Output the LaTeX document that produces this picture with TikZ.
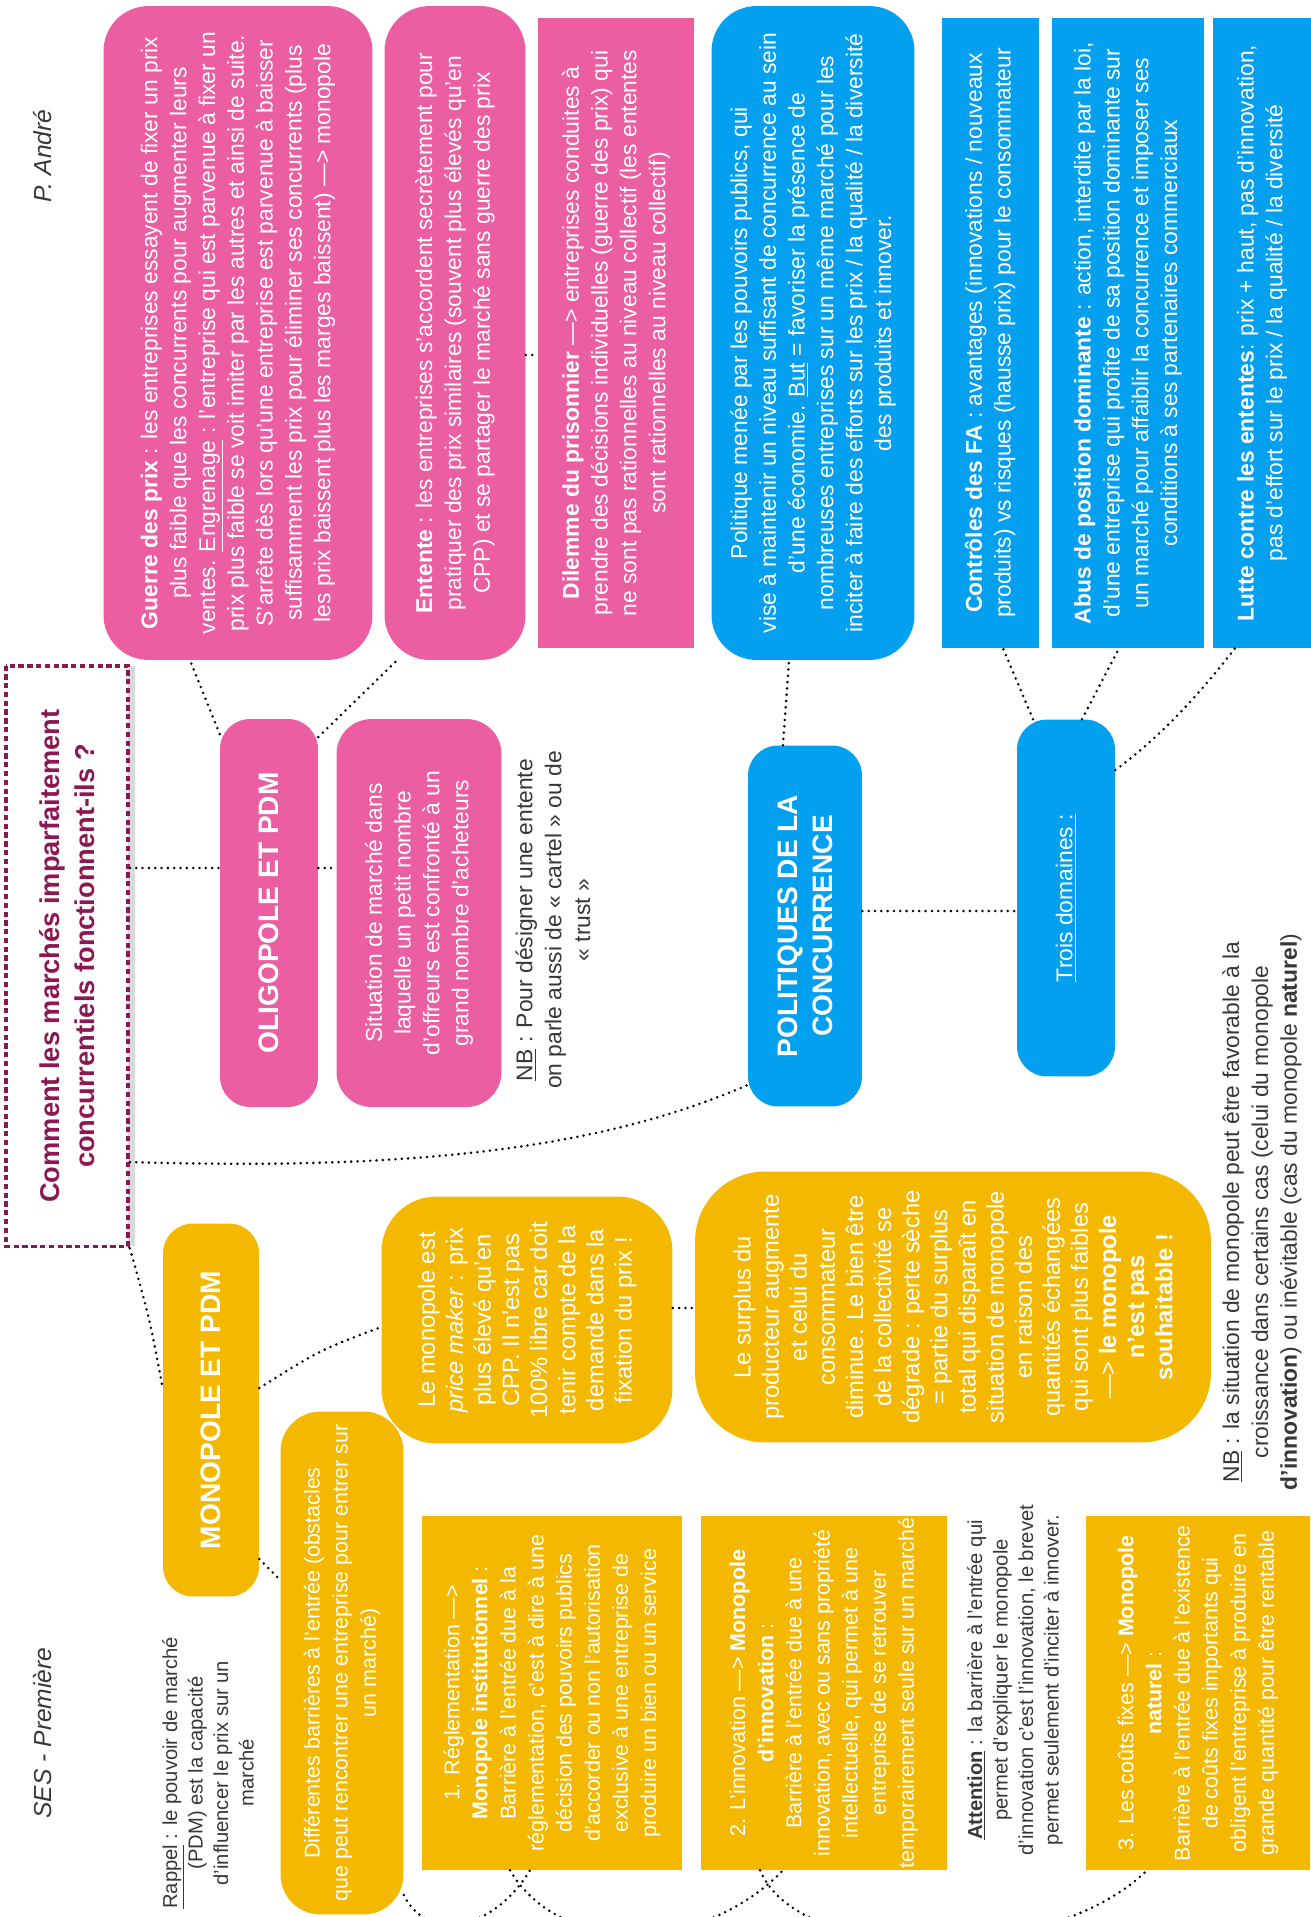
\documentclass[tikz,border=0pt]{standalone}
\usepackage{tikz}
\usetikzlibrary{shadows}
\usepackage{xcolor}
\usepackage{fontspec}
\setmainfont{Liberation Sans}

\definecolor{rose}{RGB}{236,94,162}
\definecolor{bleu}{RGB}{3,160,240}
\definecolor{jaune}{RGB}{245,184,0}
\definecolor{bordeaux}{RGB}{140,24,82}
\definecolor{gristexte}{RGB}{55,55,55}

\newcommand\corps{\fontsize{13}{16.4}\selectfont}
\newcommand\corpsjaune{\fontsize{13.5}{16}\selectfont}
\newcommand\corpsbarriere{\fontsize{12.2}{16}\selectfont}
\newcommand\petit{\fontsize{11.5}{14.5}\selectfont}
\newcommand\gros{\fontsize{16}{20}\selectfont\bfseries}

\tikzset{
  boite/.style={rotate=90, align=center, text=white, inner sep=0pt, font=\corps},
  rosebox/.style={boite, fill=rose, rounded corners=0.9cm},
  rosecarre/.style={boite, fill=rose},
  bleubox/.style={boite, fill=bleu, rounded corners=0.9cm},
  bleucarre/.style={boite, fill=bleu},
  jaunebox/.style={boite, fill=jaune, rounded corners=0.9cm, font=\corpsjaune},
  jaunecarre/.style={boite, fill=jaune, font=\corpsbarriere},
  titrebox/.style={rotate=90, align=center, text=bordeaux, draw=bordeaux, fill=white,
    line width=2.2pt, dash pattern=on 3pt off 2pt, font=\fontsize{15.5}{20}\selectfont\bfseries,
    drop shadow={shadow xshift=4pt, shadow yshift=0pt, opacity=.3}},
  note/.style={rotate=90, align=center, text=gristexte, font=\corps},
  petitenote/.style={rotate=90, align=center, text=gristexte, font=\petit},
  entete/.style={rotate=90, text=gristexte, font=\fontsize{14}{16}\selectfont\itshape},
  lien/.style={line width=1.6pt, dash pattern=on 0pt off 3.6pt, line cap=round}
}

\begin{document}
\begin{tikzpicture}[x=0.02cm, y=-0.02cm]
    \useasboundingbox (0,0) rectangle (1311,1917);
    \clip (0,0) rectangle (1311,1917);

    \draw (43,156) node[entete] (auteur) {P. André};
    \draw (43,1733) node[entete] (niveau) {SES - Première};

    \draw (67,956) node[titrebox, minimum width=11.62cm, minimum height=2.44cm] (titre) {Comment les marchés imparfaitement\\concurrentiels fonctionnent-ils ?};

    \draw (238,333) node[rosebox, minimum width=13.08cm, minimum height=5.38cm] (guerre) {\textbf{Guerre des prix} : les entreprises essayent de fixer un prix\\
plus faible que les concurrents pour augmenter leurs\\
ventes. \underline{Engrenage} : l’entreprise qui est parvenue à fixer un\\
prix plus faible se voit imiter par les autres et ainsi de suite.\\
S’arrête dès lors qu’une entreprise est parvenue à baisser\\
suffisamment les prix pour éliminer ses concurrents (plus\\
les prix baissent plus les marges baissent) —> monopole};
    \draw (455,333) node[rosebox, minimum width=13.08cm, minimum height=2.82cm] (entente) {\textbf{Entente} : les entreprises s’accordent secrètement pour\\
pratiquer des prix similaires (souvent plus élevés qu’en\\
CPP) et se partager le marché sans guerre des prix};
    \draw (616,333) node[rosecarre, minimum width=12.6cm, minimum height=3.14cm] (dilemme) {\textbf{Dilemme du prisonnier} —> entreprises conduites à\\
prendre des décisions individuelles (guerre des prix) qui\\
ne sont pas rationnelles au niveau collectif (les ententes\\
sont rationnelles au niveau collectif)};
    \draw (269,913) node[rosebox, rounded corners=0.6cm, font=\gros, minimum width=7.76cm, minimum height=1.96cm] (oligo) {OLIGOPOLE ET PDM};
    \draw (419,913) node[rosebox, rounded corners=0.7cm, minimum width=7.76cm, minimum height=3.3cm] (situation) {Situation de marché dans\\
laquelle un petit nombre\\
d’offreurs est confronté à un\\
grand nombre d’acheteurs};
    \draw (553,920) node[note] (nbcartel) {\underline{NB} : Pour désigner une entente\\
on parle aussi de «~cartel~» ou de\\
«~trust~»};

    \draw (813,333) node[bleubox, minimum width=13.08cm, minimum height=4.06cm] (politique) {Politique menée par les pouvoirs publics, qui\\
vise à maintenir un niveau suffisant de concurrence au sein\\
d’une économie. \underline{But} = favoriser la présence de\\
nombreuses entreprises sur un même marché pour les\\
inciter à faire des efforts sur les prix / la qualité / la diversité\\
des produits et innover.};
    \draw (990,333) node[bleucarre, minimum width=12.6cm, minimum height=1.94cm] (controle) {\textbf{Contrôles des FA} : avantages (innovations / nouveaux\\
produits) vs risques (hausse prix) pour le consommateur};
    \draw (1128,333) node[bleucarre, minimum width=12.6cm, minimum height=3.06cm] (abus) {\textbf{Abus de position dominante} : action, interdite par la loi,\\
d’une entreprise qui profite de sa position dominante sur\\
un marché pour affaiblir la concurrence et imposer ses\\
conditions à ses partenaires commerciaux};
    \draw (1262,333) node[bleucarre, minimum width=12.6cm, minimum height=1.96cm] (lutte) {\textbf{Lutte contre les ententes}: prix + haut, pas d’innovation,\\
pas d’effort sur le prix / la qualité / la diversité};
    \draw (805,926) node[bleubox, rounded corners=0.6cm, font=\gros, minimum width=7.22cm, minimum height=2.28cm] (polconc) {POLITIQUES DE LA\\CONCURRENCE};
    \draw (1066,898) node[bleubox, rounded corners=0.6cm, minimum width=7.14cm, minimum height=1.96cm] (domaines) {\underline{Trois domaines :}};
    \draw (1262,1212) node[note] (nbmono) {\underline{NB} : la situation de monopole peut être favorable à la\\
croissance dans certains cas (celui du monopole\\
\textbf{d’innovation}) ou inévitable (cas du monopole \textbf{naturel})};

    \draw (211,1410) node[jaunebox, rounded corners=0.6cm, font=\gros, minimum width=7.46cm, minimum height=1.92cm] (monopole) {MONOPOLE ET PDM};
    \draw (527,1320) node[jaunebox, rounded corners=1.1cm, minimum width=4.94cm, minimum height=5.82cm] (pricemaker) {Le monopole est\\
\textit{price maker} : prix\\
plus élevé qu’en\\
CPP. Il n’est pas\\
100\% libre car doit\\
tenir compte de la\\
demande dans la\\
fixation du prix !};
    \draw (953,1307) node[jaunebox, rounded corners=1.4cm, minimum width=5.42cm, minimum height=10.32cm] (surplus) {Le surplus du\\
producteur augmente\\
et celui du\\
consommateur\\
diminue. Le bien être\\
de la collectivité se\\
dégrade : perte sèche\\
= partie du surplus\\
total qui disparaît en\\
situation de monopole\\
en raison des\\
quantités échangées\\
qui sont plus faibles\\
—> \textbf{le monopole}\\
\textbf{n’est pas}\\
\textbf{souhaitable !}};
    \draw (342,1663) node[jaunebox, font=\corpsbarriere, rounded corners=0.8cm, minimum width=10.06cm, minimum height=2.46cm] (barrieres) {Différentes barrières à l’entrée (obstacles\\
que peut rencontrer une entreprise pour entrer sur\\
un marché)};
    \draw (552,1693) node[jaunecarre, minimum width=7.08cm, minimum height=5.2cm] (reglem) {1. Réglementation —>\\
\textbf{Monopole institutionnel} :\\
Barrière à l’entrée due à la\\
réglementation, c’est à dire à une\\
décision des pouvoirs publics\\
d’accorder ou non l’autorisation\\
exclusive à une entreprise de\\
produire un bien ou un service};
    \draw (824,1693) node[jaunecarre, minimum width=7.08cm, minimum height=4.94cm] (innov) {2. L’innovation —> \textbf{Monopole}\\
\textbf{d’innovation} :\\
Barrière à l’entrée due à une\\
innovation, avec ou sans propriété\\
intellectuelle, qui permet à une\\
entreprise de se retrouver\\
temporairement seule sur un marché};
    \draw (1198,1693) node[jaunecarre, minimum width=7.08cm, minimum height=4.5cm] (couts) {3. Les coûts fixes —> \textbf{Monopole}\\
\textbf{naturel} :\\
Barrière à l’entrée due à l’existence\\
de coûts fixes importants qui\\
obligent l’entreprise à produire en\\
grande quantité pour être rentable};
    \draw (1015,1680) node[petitenote] (attention) {\textbf{\underline{Attention}} : la barrière à l’entrée qui\\
permet d’expliquer le monopole\\
d’innovation c’est l’innovation, le brevet\\
permet seulement d’inciter à innover.};
    \draw (208,1773) node[petitenote] (rappel) {\underline{Rappel} : le pouvoir de marché\\
(PDM) est la capacité\\
d’influencer le prix sur un\\
marché};

    \draw[lien] (titre.south |- 0,868) -- (oligo.north |- 0,868);
    \draw[lien] (titre.south |- 0,1162) .. controls (450,1172) and (620,1140) .. (polconc.north |- 0,1085);
    \draw[lien] (titre.south west) .. controls (150,1320) .. (monopole.north |- 0,1388);
    \draw[lien] (oligo.north |- 0,734) -- (190,0 |- guerre.west);
    \draw[lien] (oligo.south |- 0,737) -- (397,0 |- entente.west);
    \draw[lien] (oligo.south |- 0,868) -- (situation.north |- 0,868);
    \draw[lien] (entente.south |- 0,355) -- (dilemme.north |- 0,355);
    \draw[lien] (783,0 |- polconc.east) -- (789,0 |- politique.west);
    \draw[lien] (polconc.south |- 0,911) -- (domaines.north |- 0,911);
    \draw[lien] (1033,0 |- domaines.east) -- (1003,0 |- controle.west);
    \draw[lien] (1082,0 |- domaines.east) -- (1119,0 |- abus.west);
    \draw[lien] (domaines.south |- 0,770) .. controls (1170,730) and (1210,680) .. (1235,0 |- lutte.west);
    \draw[lien] (monopole.south |- 0,1388) .. controls (320,1350) .. (pricemaker.north |- 0,1327);
    \draw[lien] (pricemaker.south |- 0,1308) -- (surplus.north |- 0,1308);
    \draw[lien] (monopole.south |- 0,1559) -- (barrieres.north |- 0,1580);
    \draw[lien] (barrieres.south |- 0,1895) .. controls (425,1940) and (490,1935) .. (530,0 |- reglem.west);
    \draw[lien] (510,0 |- reglem.west) .. controls (560,1955) and (700,1955) .. (783,0 |- innov.west);
    \draw[lien] (760,0 |- innov.west) .. controls (800,1965) and (1050,1965) .. (1147,0 |- couts.west);
\end{tikzpicture}
\end{document}
